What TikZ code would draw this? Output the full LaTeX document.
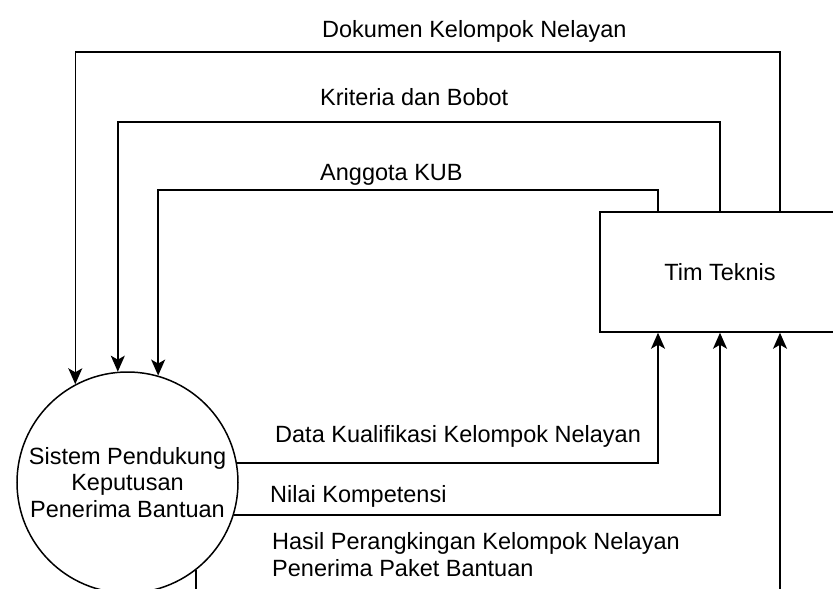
\documentclass[tikz,border=0pt]{standalone}
\usepackage{fontspec}
\setmainfont{Liberation Sans}
\usetikzlibrary{arrows.meta,calc}

\begin{document}
\begin{tikzpicture}[x=1pt,y=-1pt,
  lbl/.style={font=\fontsize{23.5}{26.5}\selectfont, inner sep=0pt, anchor=base west, align=left},
  flow/.style={line width=1.5pt, -{Stealth[length=16pt,width=14pt,inset=4pt]}},
  procnode/.style={circle, draw, line width=1.5pt, minimum size=221pt, inner sep=0pt,
    align=center, font=\fontsize{23.5}{26.5}\selectfont},
  entity/.style={rectangle, draw, line width=1.5pt, minimum width=240pt, minimum height=120pt,
    inner sep=0pt, font=\fontsize{23.5}{26.5}\selectfont}]

\useasboundingbox (0,0) rectangle (833,589);
\clip (0,0) rectangle (833,589);

% process and external entity
\node[procnode] (sp) at (127.5,482.5) {Sistem Pendukung\\Keputusan\\Penerima Bantuan};
\node[entity] (tt) at (720,272) {Tim Teknis};

% attachment points on the entity
\coordinate (ta) at ([xshift=-62pt]tt.north);
\coordinate (tb) at (tt.north);
\coordinate (tc) at ([xshift=60pt]tt.north);
\coordinate (ba) at ([xshift=-62pt]tt.south);
\coordinate (bb) at (tt.south);
\coordinate (bc) at ([xshift=60pt]tt.south);

% routing levels
\coordinate (r1) at (0,52);
\coordinate (r2) at (0,122);
\coordinate (r3) at (0,190);
\coordinate (r4) at (0,640);

% flows from Tim Teknis into the process
\draw[flow] (tc) -- (tc |- r1) -| (sp.118.37);
\draw[flow] (tb) -- (tb |- r2) -| (sp.95.45);
\draw[flow] (ta) -- (ta |- r3) -| (sp.74.52);

% flows from the process back to Tim Teknis
\draw[flow] (sp.10.69) -| (ba);
\draw[flow] (sp.-17.1) -| (bb);
\draw[flow] (sp.-52.35) -- (sp.-52.35 |- r4) -| (bc);

% flow labels (base anchor of a two-line label is its last line)
\node[lbl] (l1) at (322,37) {Dokumen Kelompok Nelayan};
\node[lbl] (l2) at (320,105) {Kriteria dan Bobot};
\node[lbl] (l3) at (320,180) {Anggota KUB};
\node[lbl] (l4) at (275,442) {Data Kualifikasi Kelompok Nelayan};
\node[lbl] (l5) at (270,502) {Nilai Kompetensi};
\node[lbl] (l6) at (272,576) {Hasil Perangkingan Kelompok Nelayan\\Penerima Paket Bantuan};
\end{tikzpicture}
\end{document}
